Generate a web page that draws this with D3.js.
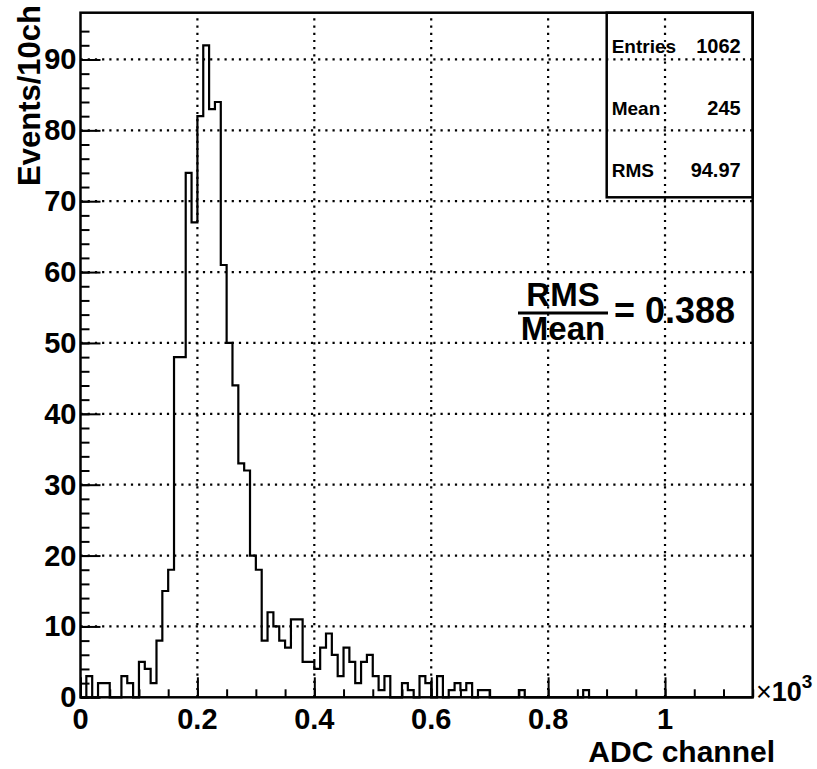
<!DOCTYPE html>
<html>
<head>
<meta charset="utf-8">
<script src="https://cdn.jsdelivr.net/npm/d3@7"></script>
<style>
body { margin: 0; background: #fff; }
text { font-family: "Liberation Sans", Arial, Helvetica, sans-serif; font-weight: bold; }
</style>
</head>
<body>
<svg id="chart" width="817" height="769"></svg>
<script>
// histogram: 115 bins of 10 ch (axis in units of 10^3 ch)
var binLow = 0;
var binWidth = 0.01;
var counts = [
	0, 3, 0, 2, 2, 0, 0, 3, 2, 0,
	5, 4, 2, 8, 15, 18, 48, 48, 74, 67,
	82, 92, 83, 84, 61, 50, 44, 33, 32, 20,
	18, 8, 12, 10, 8, 7, 11, 11, 5, 5,
	4, 7, 9, 6, 3, 7, 5, 2, 5, 6,
	3, 1, 3, 0, 0, 2, 1, 0, 3, 2,
	0, 3, 0, 1, 2, 1, 2, 0, 1, 1,
	0, 0, 0, 0, 0, 1, 0, 0, 0, 0,
	0, 0, 0, 0, 0, 0, 1, 0, 0, 0,
	0, 0, 0, 0, 0, 0, 0, 0, 0, 0,
	0, 0, 0, 0, 0, 0, 0, 0, 0, 0,
	0, 0, 0, 0, 0
];
var xTicks = [0, 0.2, 0.4, 0.6, 0.8, 1];
var xTickLabels = ["0", "0.2", "0.4", "0.6", "0.8", "1"];
var yTicks = [0, 10, 20, 30, 40, 50, 60, 70, 80, 90];
var statNames = ["Entries", "Mean", "RMS"];
var statValues = ["1062", "245", "94.97"];
var ratioText = "= 0.388";

var frameL = 80.5, frameR = 752.7, frameT = 12.7, frameB = 697.3;
var xMax = binLow + binWidth * counts.length;
var yMax = 1.05 * d3.max(counts);

var svg = d3.select("#chart");

var x = d3.scaleLinear().domain([0, xMax]).range([frameL, frameR]);
var y = d3.scaleLinear().domain([0, yMax]).range([frameB, frameT]);

// grid
var grid = svg.append("g")
	.attr("stroke", "#000")
	.attr("stroke-width", 2.2)
	.attr("stroke-dasharray", "2.2,5");
grid.selectAll(".gx").data(xTicks.filter(function(d) { return d > 0; }))
	.enter().append("line")
	.attr("x1", function(d) { return x(d); })
	.attr("x2", function(d) { return x(d); })
	.attr("y1", frameB).attr("y2", frameT);
grid.selectAll(".gy").data(yTicks.filter(function(d) { return d > 0; }))
	.enter().append("line")
	.attr("y1", function(d) { return y(d); })
	.attr("y2", function(d) { return y(d); })
	.attr("x1", frameL).attr("x2", frameR);

// histogram outline
var pts = [[binLow, 0]];
counts.forEach(function(c, i) {
	pts.push([binLow + i * binWidth, c]);
});
pts.push([xMax, counts[counts.length - 1]]);
pts.push([xMax, 0]);
var line = d3.line()
	.x(function(d) { return x(d[0]); })
	.y(function(d) { return y(d[1]); })
	.curve(d3.curveStepAfter);
svg.append("path")
	.attr("d", line(pts))
	.attr("fill", "none")
	.attr("stroke", "#000")
	.attr("stroke-width", 2.2);

// axes (ticks point into the frame, like ROOT)
var xAxis = d3.axisTop(x).tickValues(xTicks).tickFormat("").tickSize(20);
var xMinor = d3.axisTop(x).tickValues(d3.range(0, 1.151, 0.05)).tickFormat("").tickSize(8);
var gx = svg.append("g").attr("transform", "translate(0," + frameB + ")");
gx.call(xMinor);
gx.append("g").call(xAxis);
gx.selectAll(".domain").remove();
gx.selectAll("line").attr("stroke", "#000").attr("stroke-width", 2);

var yAxis = d3.axisRight(y).tickValues(yTicks).tickFormat("").tickSize(20);
var yMinor = d3.axisRight(y).tickValues(d3.range(0, 96, 2)).tickFormat("").tickSize(9);
var gy = svg.append("g").attr("transform", "translate(" + frameL + ",0)");
gy.call(yMinor);
gy.append("g").call(yAxis);
gy.selectAll(".domain").remove();
gy.selectAll("line").attr("stroke", "#000").attr("stroke-width", 2);

// frame
svg.append("rect")
	.attr("x", frameL).attr("y", frameT)
	.attr("width", frameR - frameL).attr("height", frameB - frameT)
	.attr("fill", "none").attr("stroke", "#000").attr("stroke-width", 2.5);

// tick labels
svg.selectAll(".xl").data(xTicks).enter().append("text")
	.attr("x", function(d) { return x(d); })
	.attr("y", 729)
	.attr("text-anchor", "middle")
	.attr("font-size", 29)
	.text(function(d, i) { return xTickLabels[i]; });
svg.selectAll(".yl").data(yTicks).enter().append("text")
	.attr("x", frameL - 4)
	.attr("y", function(d) { return y(d) + 10; })
	.attr("text-anchor", "end")
	.attr("font-size", 29)
	.text(function(d) { return d; });

// x10^3
var mult = svg.append("text").attr("x", 756).attr("y", 701).attr("font-size", 27);
mult.append("tspan").text("\u00d7").attr("font-weight", "normal");
mult.append("tspan").text("10");
mult.append("tspan").text("3").attr("font-size", 19).attr("dy", -13);

// axis titles
svg.append("text")
	.attr("x", 775).attr("y", 762)
	.attr("text-anchor", "end")
	.attr("font-size", 30)
	.text("ADC channel");
svg.append("text")
	.attr("transform", "translate(40,5) rotate(-90)")
	.attr("text-anchor", "end")
	.attr("font-size", 31)
	.text("Events/10ch");

// stats box
var boxL = 606.7, boxT = frameT, boxB = 197.3;
svg.append("rect")
	.attr("x", boxL).attr("y", boxT)
	.attr("width", frameR - boxL).attr("height", boxB - boxT)
	.attr("fill", "none").attr("stroke", "#000").attr("stroke-width", 2.5);
var rowH = (boxB - boxT) / statNames.length;
statNames.forEach(function(n, i) {
	var yy = boxT + rowH * (i + 0.5) + 10;
	svg.append("text").attr("x", boxL + 5).attr("y", yy)
		.attr("font-size", 19).text(n);
	svg.append("text").attr("x", frameR - 12).attr("y", yy)
		.attr("text-anchor", "end")
		.attr("font-size", 20).text(statValues[i]);
});

// RMS / Mean
svg.append("text").attr("x", 563).attr("y", 306).attr("text-anchor", "middle")
	.attr("font-size", 33).text("RMS");
svg.append("line").attr("x1", 518).attr("x2", 608).attr("y1", 313).attr("y2", 313)
	.attr("stroke", "#000").attr("stroke-width", 3);
svg.append("text").attr("x", 563).attr("y", 340).attr("text-anchor", "middle")
	.attr("font-size", 33).text("Mean");
svg.append("text").attr("x", 614).attr("y", 323)
	.attr("font-size", 36).text(ratioText);
</script>
</body>
</html>
